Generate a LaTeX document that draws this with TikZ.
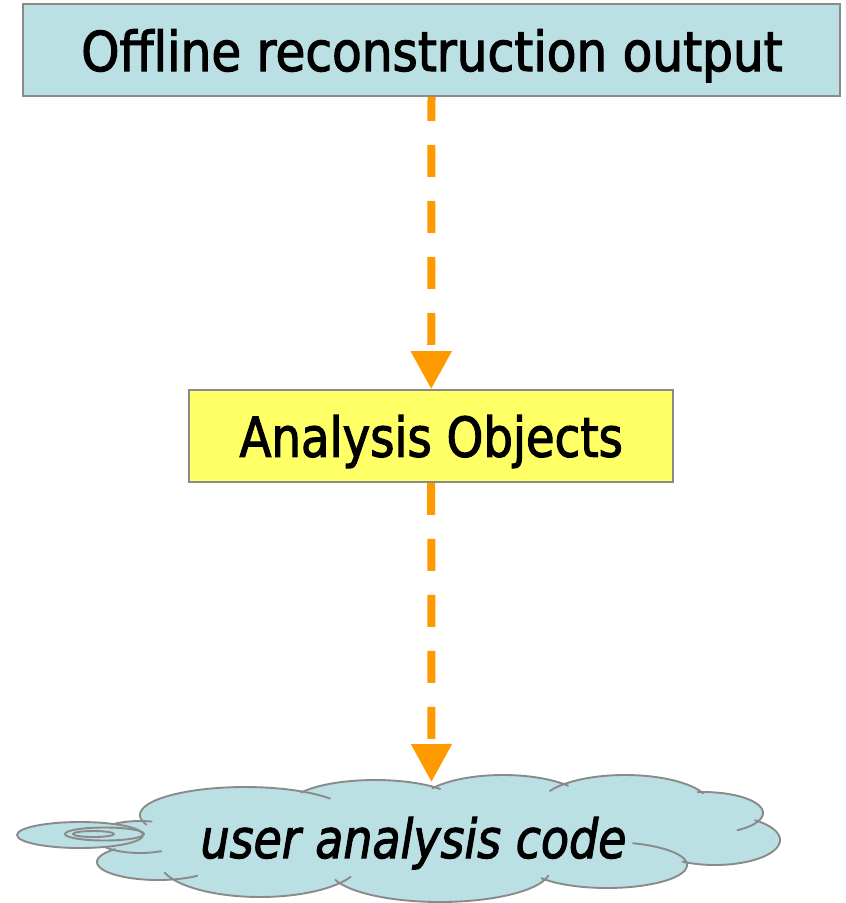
\documentclass[tikz,border=0pt]{standalone}
\usepackage{fontspec}
\setmainfont{DejaVu Sans}[FakeStretch=0.85, FakeBold=2, Ligatures=CommonOff]
\usetikzlibrary{arrows.meta}

\definecolor{paleblue}{RGB}{186,224,228}
\definecolor{paleyellow}{RGB}{255,255,102}
\definecolor{floworange}{RGB}{255,153,0}
\definecolor{edgegray}{RGB}{138,138,138}

% one lobe of the cloud: filled ellipse (centre x, centre y, x radius, y radius)
\newcommand\cloudlobe[4]{\fill[paleblue] (#1,#2) ellipse [x radius=#3, y radius=#4];}
% visible rim of a lobe, from angle #5 to angle #6
\newcommand\cloudrim[6]{\draw[cloudline] plot[domain=#5:#6, samples=60, variable=\t]
  ({#1+#3*cos(\t)},{#2+#4*sin(\t)});}

\begin{document}
\begin{tikzpicture}[x=1pt, y=-1pt,
  box/.style={draw=edgegray, line width=1.7pt, inner sep=0pt},
  boxtext/.style={anchor=base, inner sep=0pt, font=\fontsize{54.9pt}{60pt}\selectfont},
  cloudline/.style={edgegray, line width=1.9pt, line cap=round, line join=round},
  flow/.style={draw=floworange, line width=8pt, dash pattern=on 32pt off 24pt,
    -{Triangle[length=38pt, width=39pt]}}]

\useasboundingbox (0,0) rectangle (846,903);

% boxes
\node[box, fill=paleblue, minimum width=817pt, minimum height=92pt] (top) at (431.5,50) {};
\node[boxtext] (toptext) at (432,71) {\scalebox{1.04}[1]{Offline reconstruction output}};
\node[box, fill=paleyellow, minimum width=484pt, minimum height=92pt] (mid) at (431.2,436) {};
\node[boxtext] (midtext) at (431.2,456.7) {Analysis Objects};

% cloud body
\fill[paleblue] (150,815) -- (245,800) -- (375,795) -- (503,795) -- (625,800)
  -- (700,815) -- (740,835) -- (690,860) -- (607,870) -- (440,880)
  -- (260,875) -- (160,860) -- (130,840) -- cycle;
\cloudlobe{245}{815}{105}{28}
\cloudlobe{375}{805}{85}{25}
\cloudlobe{503}{805}{85}{30}
\cloudlobe{625}{805}{85}{30}
\cloudlobe{703}{813}{60}{21}
\cloudlobe{715}{840}{65}{25}
\cloudlobe{607}{865}{80}{23}
\cloudlobe{440}{870}{110}{32}
\cloudlobe{260}{862}{100}{35}
\cloudlobe{158}{862}{61}{18}
\cloudlobe{140}{837}{45}{16}

% cloud rims
\cloudrim{245}{815}{105}{28}{160}{324}
\cloudrim{375}{805}{85}{25}{210}{320}
\cloudrim{503}{805}{85}{30}{214}{320}
\cloudrim{625}{805}{85}{30}{208}{337}
\cloudrim{703}{813}{60}{21}{265}{415}
\cloudrim{715}{840}{65}{25}{308}{480}
\cloudrim{607}{865}{80}{23}{-71}{145}
\cloudrim{440}{870}{110}{32}{10}{162}
\cloudrim{260}{862}{100}{35}{25}{162}
\cloudrim{158}{862}{61}{18}{50}{225}
\cloudrim{140}{837}{45}{16}{62}{285}

% small puffs trailing to the left
\filldraw[cloudline, fill=paleblue] (80,835) ellipse [x radius=63, y radius=13];
\draw[cloudline] (104.5,834) ellipse [x radius=39.5, y radius=6.5];
\draw[cloudline] (93.5,834) ellipse [x radius=20.5, y radius=3];

\node[anchor=base, inner sep=0pt, font=\fontsize{54pt}{60pt}\selectfont\itshape]
  (cloudtext) at (413.5,858) {user analysis code};
\coordinate (cloudtop) at (431.5,782);

% flow arrows
\draw[flow, dash phase=8pt] (top.south) -- (mid.north);
\draw[flow] (mid.south) -- (cloudtop);

\end{tikzpicture}
\end{document}
